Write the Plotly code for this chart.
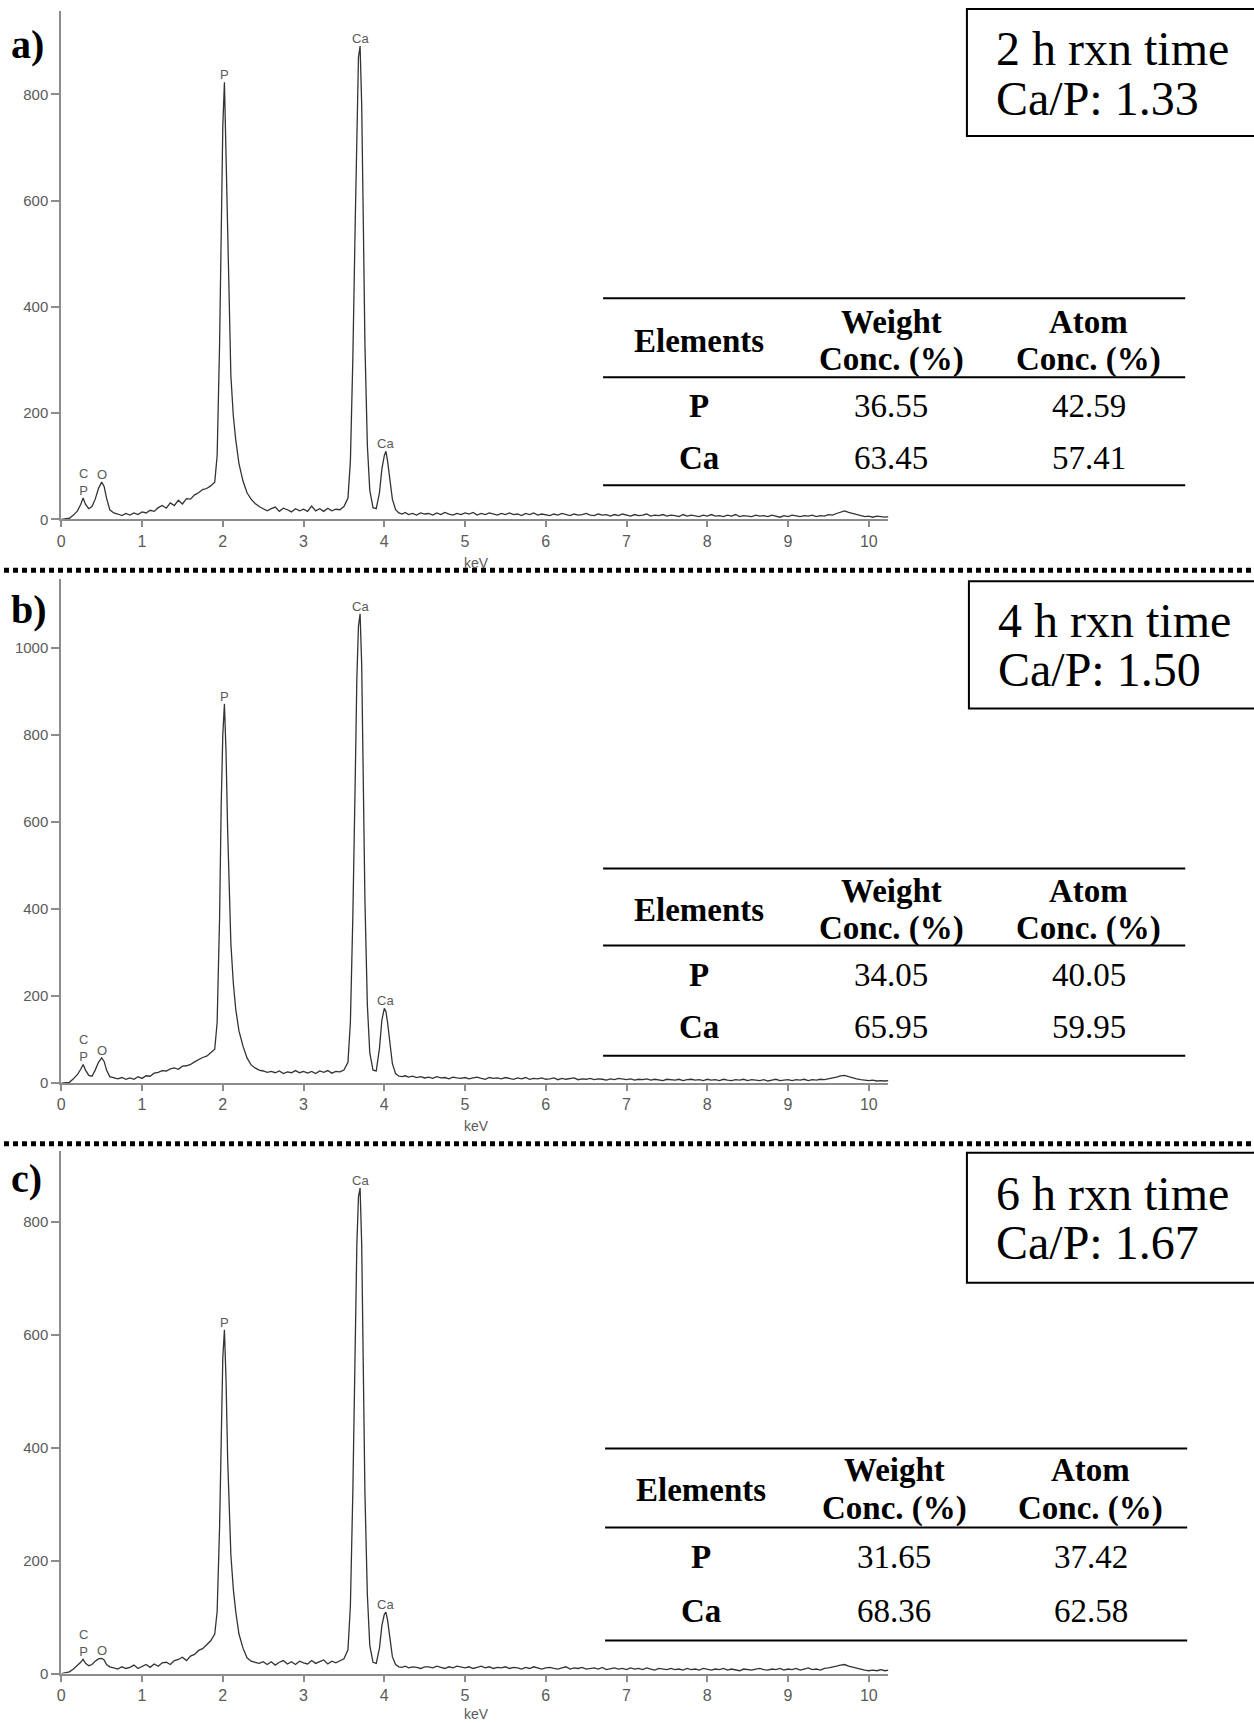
import plotly.graph_objects as go

W, H = 1254, 1723

# ---------------- data ----------------
ENERGY = [
    0.00, 0.05, 0.10, 0.15, 0.20, 0.24, 0.27, 0.30, 0.34, 0.38,
    0.42, 0.46, 0.50, 0.53, 0.56, 0.60, 0.65, 0.70, 0.75, 0.80,
    0.85, 0.90, 0.95, 1.00, 1.05, 1.10, 1.15, 1.20, 1.25, 1.30,
    1.35, 1.40, 1.45, 1.50, 1.55, 1.60, 1.65, 1.70, 1.75, 1.80,
    1.85, 1.90, 1.93, 1.96, 1.98, 2.00, 2.02, 2.04, 2.06, 2.08,
    2.10, 2.13, 2.16, 2.20, 2.25, 2.30, 2.35, 2.40, 2.45, 2.50,
    2.55, 2.60, 2.65, 2.70, 2.75, 2.80, 2.85, 2.90, 2.95, 3.00,
    3.05, 3.10, 3.15, 3.20, 3.25, 3.30, 3.35, 3.40, 3.45, 3.50,
    3.55, 3.58, 3.61, 3.64, 3.66, 3.68, 3.70, 3.72, 3.74, 3.76,
    3.79, 3.82, 3.86, 3.90, 3.94, 3.97, 4.00, 4.02, 4.04, 4.07,
    4.10, 4.14, 4.18, 4.22, 4.26, 4.30, 4.35, 4.40, 4.45, 4.50,
    4.55, 4.60, 4.65, 4.70, 4.75, 4.80, 4.85, 4.90, 4.95, 5.00,
    5.05, 5.10, 5.15, 5.20, 5.25, 5.30, 5.35, 5.40, 5.45, 5.50,
    5.55, 5.60, 5.65, 5.70, 5.75, 5.80, 5.85, 5.90, 5.95, 6.00,
    6.05, 6.10, 6.15, 6.20, 6.25, 6.30, 6.35, 6.40, 6.45, 6.50,
    6.55, 6.60, 6.65, 6.70, 6.75, 6.80, 6.85, 6.90, 6.95, 7.00,
    7.05, 7.10, 7.15, 7.20, 7.25, 7.30, 7.35, 7.40, 7.45, 7.50,
    7.55, 7.60, 7.65, 7.70, 7.75, 7.80, 7.85, 7.90, 7.95, 8.00,
    8.05, 8.10, 8.15, 8.20, 8.25, 8.30, 8.35, 8.40, 8.45, 8.50,
    8.55, 8.60, 8.65, 8.70, 8.75, 8.80, 8.85, 8.90, 8.95, 9.00,
    9.05, 9.10, 9.15, 9.20, 9.25, 9.30, 9.35, 9.40, 9.45, 9.50,
    9.55, 9.60, 9.65, 9.70, 9.75, 9.80, 9.85, 9.90, 9.95, 10.00,
    10.05, 10.10, 10.15, 10.20, 10.25,
]

COUNTS_A = [
    0, 1, 2, 8, 16, 28, 40, 28, 20, 24,
    38, 58, 70, 62, 40, 18, 12, 10, 7, 11,
    8, 12, 9, 14, 12, 17, 15, 22, 26, 21,
    31, 26, 36, 29, 39, 38, 46, 50, 56, 58,
    63, 70, 120, 330, 570, 740, 823, 690, 510, 370,
    270, 195, 150, 105, 72, 50, 38, 30, 24, 20,
    16, 20, 23, 15, 21, 18, 14, 20, 16, 19,
    15, 25, 16, 20, 15, 21, 16, 19, 18, 24,
    40, 110, 300, 560, 760, 870, 891, 780, 560, 330,
    140, 55, 22, 20, 50, 95, 120, 128, 110, 70,
    38, 18, 12, 10, 13, 9, 11, 8, 12, 10,
    11, 8, 12, 9, 13, 10, 8, 11, 9, 12,
    10, 13, 8, 11, 9, 12, 10, 8, 11, 9,
    12, 9, 10, 7, 11, 9, 12, 8, 10, 9,
    7, 10, 8, 11, 9, 7, 10, 8, 9, 11,
    8, 7, 10, 8, 9, 6, 9, 7, 10, 8,
    6, 9, 7, 8, 10, 6, 8, 7, 9, 6,
    8, 7, 5, 9, 6, 8, 7, 5, 8, 6,
    9, 6, 7, 5, 8, 6, 9, 5, 7, 6,
    5, 8, 6, 7, 5, 8, 6, 4, 7, 5,
    8, 6, 5, 7, 6, 8, 5, 7, 6, 9,
    8, 11, 14, 16, 13, 11, 8, 7, 5, 6,
    4, 6, 5, 4, 5,
]

COUNTS_B = [
    0, 1, 2, 10, 20, 32, 43, 30, 18, 16,
    30, 48, 58, 50, 30, 15, 12, 10, 13, 9,
    12, 9, 15, 11, 17, 16, 23, 25, 29, 28,
    33, 35, 32, 39, 40, 43, 49, 54, 59, 62,
    70, 78, 140, 380, 640, 800, 871, 760, 580, 430,
    320, 230, 170, 120, 85, 58, 42, 35, 30, 28,
    25, 27, 24, 28, 22, 26, 24, 29, 24, 27,
    23, 27, 22, 28, 25, 29, 23, 27, 26, 30,
    48, 140, 380, 700, 930, 1050, 1078, 960, 700, 420,
    180, 70, 30, 28, 80, 145, 172, 165, 140, 90,
    45, 22, 16, 15, 17, 14, 16, 13, 15, 12,
    14, 11, 15, 12, 13, 10, 14, 12, 11, 13,
    10, 12, 14, 11, 9, 13, 11, 12, 10, 13,
    11, 9, 12, 10, 13, 9, 11, 10, 12, 9,
    10, 12, 8, 11, 9, 10, 12, 8, 10, 9,
    11, 8, 10, 9, 7, 10, 8, 11, 9, 8,
    10, 7, 9, 8, 10, 7, 9, 8, 6, 9,
    8, 7, 9, 6, 8, 9, 7, 8, 6, 9,
    7, 8, 6, 9, 7, 6, 8, 7, 9, 6,
    8, 7, 6, 8, 5, 7, 9, 6, 7, 8,
    6, 8, 7, 9, 6, 8, 7, 9, 8, 10,
    11, 14, 17, 18, 15, 12, 10, 8, 7, 6,
    7, 5, 6, 5, 6,
]

COUNTS_C = [
    0, 1, 3, 8, 14, 20, 25, 18, 14, 16,
    22, 26, 27, 24, 16, 12, 10, 8, 12, 9,
    11, 15, 9, 13, 16, 11, 17, 13, 19, 20,
    16, 23, 25, 29, 23, 31, 34, 41, 44, 51,
    58, 70, 110, 260, 430, 560, 609, 520, 380, 280,
    210, 150, 110, 70, 45, 28, 22, 20, 18, 21,
    16, 21, 15, 20, 23, 17, 21, 16, 22, 19,
    17, 23, 18, 21, 24, 17, 22, 19, 23, 26,
    42, 120, 320, 580, 760, 845, 860, 760, 560, 320,
    140, 50, 20, 18, 45, 85, 105, 109, 95, 60,
    30, 16, 12, 11, 13, 10, 12, 11, 9, 12,
    12, 10, 13, 11, 9, 12, 10, 13, 11, 10,
    12, 9, 11, 13, 10, 12, 9, 11, 10, 12,
    9, 11, 10, 8, 11, 9, 12, 10, 8, 10,
    11, 9, 8, 10, 12, 8, 10, 9, 11, 8,
    9, 10, 8, 11, 7, 9, 10, 8, 9, 7,
    10, 8, 9, 7, 10, 8, 6, 9, 8, 7,
    9, 7, 8, 6, 9, 7, 8, 6, 9, 7,
    6, 8, 7, 9, 6, 8, 7, 5, 8, 7,
    6, 8, 9, 7, 6, 8, 7, 9, 6, 8,
    7, 9, 6, 8, 10, 7, 8, 6, 9, 10,
    11, 13, 15, 16, 13, 11, 9, 7, 6, 5,
    6, 5, 7, 5, 6,
]

PEAK_NAMES = ["C<br>P", "O", "P", "Ca", "Ca"]
PEAK_KEV = [0.27, 0.51, 2.02, 3.70, 4.02]
PEAK_Y_A = [41, 70, 823, 891, 128]
PEAK_Y_B = [43, 58, 871, 1078, 172]
PEAK_Y_C = [25, 27, 609, 860, 109]

X_TICKS = [0, 1, 2, 3, 4, 5, 6, 7, 8, 9, 10]
Y_TICKS_A = [0, 200, 400, 600, 800]
Y_TICKS_B = [0, 200, 400, 600, 800, 1000]
Y_TICKS_C = [0, 200, 400, 600, 800]
X_LABEL = "keV"

TABLE_HEAD_1 = ["Elements", "Weight", "Atom"]
TABLE_HEAD_2 = ["", "Conc. (%)", "Conc. (%)"]
ELEMENTS = ["P", "Ca"]
WEIGHT_A = ["36.55", "63.45"]
ATOM_A = ["42.59", "57.41"]
WEIGHT_B = ["34.05", "65.95"]
ATOM_B = ["40.05", "59.95"]
WEIGHT_C = ["31.65", "68.36"]
ATOM_C = ["37.42", "62.58"]

TIMES = ["2 h rxn time", "4 h rxn time", "6 h rxn time"]
RATIOS = ["Ca/P: 1.33", "Ca/P: 1.50", "Ca/P: 1.67"]
PANEL_LABELS = ["a)", "b)", "c)"]

# ---------------- layout helpers ----------------
YS = 1.0053


def px(xp):
    return xp / W


def py(yp):
    return 1 - yp * YS / H


SERIF = "Liberation Serif, Times New Roman, serif"
SANS = "Liberation Sans, Arial, sans-serif"
AX_COL = "#8c8c8c"
TXT_COL = "#5a5a5a"
TAB_SIZE = 33

panels = [
    dict(counts=COUNTS_A, peaks=PEAK_Y_A, yt=Y_TICKS_A, y0=519, ytop=11, ymax=957,
         kev_y=563, lab_y=44,
         tab_x=(601, 1185), cols=(697, 890, 1088), lines=(298, 377, 485),
         h1=322, h2=359, hel=341, rows=(405.5, 458), w=WEIGHT_A, a=ATOM_A,
         box=(966, 9, 136), tx=993, ty=(48, 98)),
    dict(counts=COUNTS_B, peaks=PEAK_Y_B, yt=Y_TICKS_B, y0=1082.5, ytop=579, ymax=1157,
         kev_y=1125, lab_y=609,
         tab_x=(601, 1185), cols=(697, 890, 1088), lines=(868, 945, 1055),
         h1=890, h2=927.5, hel=909, rows=(974, 1026.5), w=WEIGHT_B, a=ATOM_B,
         box=(968, 581, 708), tx=995, ty=(620, 669)),
    dict(counts=COUNTS_C, peaks=PEAK_Y_C, yt=Y_TICKS_C, y0=1672.5, ytop=1150.7, ymax=925,
         kev_y=1713, lab_y=1178,
         tab_x=(603, 1187), cols=(699, 893, 1090), lines=(1447.5, 1526.5, 1639.5),
         h1=1469, h2=1508, hel=1489, rows=(1556, 1610), w=WEIGHT_C, a=ATOM_C,
         box=(966, 1152, 1282), tx=993, ty=(1192.5, 1242)),
]

fig = go.Figure()
annotations = []
shapes = []
layout = {}

X_DOMAIN = [px(57.5), px(887)]


def txt(x, y, text, size, family=SERIF, xanchor="center", color="black"):
    return dict(x=x, y=y, xref="paper", yref="paper", text=text, showarrow=False,
                xanchor=xanchor, yanchor="middle",
                font=dict(family=family, size=size, color=color))


for i, p in enumerate(panels):
    n = "" if i == 0 else str(i + 1)
    xa, ya = "x" + n, "y" + n
    fig.add_trace(go.Scatter(
        x=ENERGY, y=p["counts"], mode="lines", xaxis=xa, yaxis=ya,
        line=dict(color="#333333", width=1.3), showlegend=False, hoverinfo="skip"))

    layout["xaxis" + n] = dict(
        domain=X_DOMAIN, range=[0, 10.24], anchor=ya, tickvals=X_TICKS,
        showline=True, linecolor=AX_COL, linewidth=2, ticks="outside", ticklen=6,
        tickcolor=AX_COL, tickwidth=1.5, showgrid=False, zeroline=False,
        tickfont=dict(family=SANS, size=16, color=TXT_COL))
    layout["yaxis" + n] = dict(
        domain=[py(p["y0"]), py(p["ytop"])], range=[0, p["ymax"]], anchor=xa,
        tickvals=p["yt"], showline=True, linecolor=AX_COL, linewidth=2,
        ticks="outside", ticklen=8, tickcolor=AX_COL, tickwidth=1.5,
        showgrid=False, zeroline=False,
        tickfont=dict(family=SANS, size=15, color=TXT_COL))

    # peak labels
    for name, kev, yv in zip(PEAK_NAMES, PEAK_KEV, p["peaks"]):
        annotations.append(dict(
            x=kev, y=yv, xref=xa, yref=ya, text=name, showarrow=False,
            xanchor="center", yanchor="bottom", yshift=-2,
            font=dict(family=SANS, size=13, color=TXT_COL)))

    # x label
    annotations.append(dict(
        x=5.14, y=py(p["kev_y"]), xref=xa, yref="paper", text=X_LABEL,
        showarrow=False, xanchor="center", yanchor="middle",
        font=dict(family=SANS, size=14, color=TXT_COL)))

    # panel label
    annotations.append(txt(px(5), py(p["lab_y"]), "<b>" + PANEL_LABELS[i] + "</b>",
                           40, xanchor="left"))

    # table lines
    for ly in p["lines"]:
        shapes.append(dict(type="line", xref="paper", yref="paper",
                           x0=px(p["tab_x"][0]), x1=px(p["tab_x"][1]),
                           y0=py(ly), y1=py(ly),
                           line=dict(color="black", width=2)))
    c0, c1, c2 = p["cols"]
    annotations.append(txt(px(c0), py(p["hel"]), "<b>" + TABLE_HEAD_1[0] + "</b>", TAB_SIZE))
    for c, t1, t2 in ((c1, TABLE_HEAD_1[1], TABLE_HEAD_2[1]),
                      (c2, TABLE_HEAD_1[2], TABLE_HEAD_2[2])):
        annotations.append(txt(px(c), py(p["h1"]), "<b>" + t1 + "</b>", TAB_SIZE))
        annotations.append(txt(px(c), py(p["h2"]), "<b>" + t2 + "</b>", TAB_SIZE))
    for ry, el, wv, av in zip(p["rows"], ELEMENTS, p["w"], p["a"]):
        annotations.append(txt(px(c0), py(ry), "<b>" + el + "</b>", TAB_SIZE))
        annotations.append(txt(px(c1), py(ry), wv, TAB_SIZE))
        annotations.append(txt(px(c2), py(ry), av, TAB_SIZE))

    # info box
    bx0, by0, by1 = p["box"]
    shapes.append(dict(type="rect", xref="paper", yref="paper",
                       x0=px(bx0), x1=1.02, y0=py(by1), y1=py(by0),
                       line=dict(color="black", width=2), fillcolor="rgba(0,0,0,0)"))
    for t, ty in zip((TIMES[i], RATIOS[i]), p["ty"]):
        annotations.append(txt(px(p["tx"]), py(ty), t, 48, xanchor="left"))

# dotted separators
for sy in (570, 1143):
    shapes.append(dict(type="line", xref="paper", yref="paper",
                       x0=0, x1=1, y0=py(sy), y1=py(sy),
                       line=dict(color="black", width=5, dash="5px,4px")))

fig.update_layout(
    width=W, height=H, margin=dict(l=0, r=0, t=0, b=0),
    paper_bgcolor="white", plot_bgcolor="white",
    annotations=annotations, shapes=shapes, showlegend=False,
    **layout)

fig.write_html(
    "out.html",
    config={"displayModeBar": False},
    post_script="document.body.style.margin='0';document.body.style.overflow='hidden';")
